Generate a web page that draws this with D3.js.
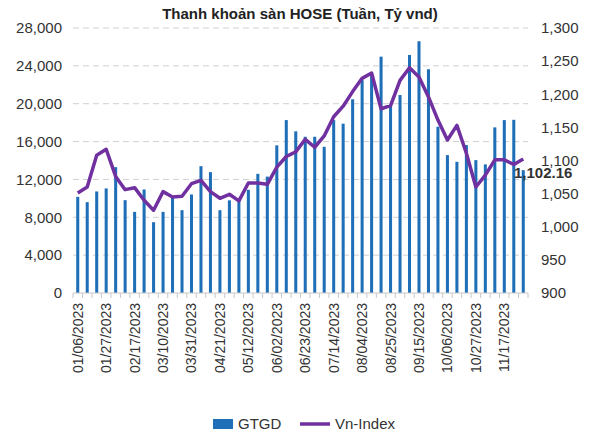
<!DOCTYPE html>
<html><head><meta charset="utf-8">
<script src="https://cdn.jsdelivr.net/npm/d3@7"></script>
<style>body{margin:0;background:#fff}svg{font-family:"Liberation Sans",Arial,sans-serif}</style>
</head><body><svg id="c" width="600" height="441"></svg>
<script>
let weeks = d3.range(48).map(i => d3.timeFormat('%m/%d/%Y')(d3.timeDay.offset(new Date(2023, 0, 6), i * 7)));
let gtgd = [10160, 9600, 10730, 11050, 13300, 9810, 8570, 10940, 7480, 8570, 10160, 8750,
  10410, 13400, 12770, 8750, 9790, 9700, 10900, 12590, 12300, 15600, 18270, 17080,
  16510, 16510, 15450, 18270, 17890, 20470, 22500, 23220, 24970, 19860, 20920, 25150,
  26600, 23640, 17570, 14570, 13860, 15630, 14040, 13590, 17500, 18270, 18300, 12980];
let vnIndex = [1051, 1060, 1108, 1117, 1076, 1056, 1059, 1040, 1025, 1053, 1045, 1046,
  1065, 1070, 1053, 1043, 1049, 1039, 1066, 1066, 1064, 1090, 1106, 1113,
  1132, 1120, 1137, 1166, 1182, 1204, 1224, 1232, 1178, 1183, 1221, 1240,
  1226, 1196, 1161, 1131, 1153, 1111, 1060, 1078, 1101, 1101, 1094, 1102.16];
let leftTicks = d3.range(0, 28001, 4000);
let rightTicks = d3.range(900, 1301, 50);

(function () {
let svg = d3.select('#c');
let mLeft = 73, mRight = 528, mTop = 28, mBottom = 293;
let x = d3.scaleBand().domain(weeks).range([mLeft, mRight]).paddingInner(0.68).paddingOuter(0.34);
let y = d3.scaleLinear().domain([0, 28000]).range([mBottom, mTop]);
let y2 = d3.scaleLinear().domain([900, 1300]).range([mBottom, mTop]);

svg.append('text').attr('x', 300).attr('y', 19).attr('text-anchor', 'middle')
  .attr('font-weight', 'bold').attr('font-size', 15).attr('fill', '#222')
  .text('Thanh khoản sàn HOSE (Tuần, Tỷ vnd)');

// gridlines
svg.append('g').selectAll('line').data(leftTicks.slice(1)).join('line')
  .attr('x1', mLeft).attr('x2', mRight).attr('y1', d => y(d)).attr('y2', d => y(d))
  .attr('stroke', '#d0d0d0').attr('stroke-dasharray', '6,4');

let ga = svg.append('g').attr('transform', `translate(${mLeft - 8},0)`)
  .call(d3.axisLeft(y).tickValues(leftTicks).tickFormat(d3.format(',')).tickSize(0));
ga.select('.domain').remove();
ga.selectAll('text').attr('font-size', 15).attr('fill', '#333')
  .attr('font-family', '"Liberation Sans",Arial,sans-serif');

let gb = svg.append('g').attr('transform', `translate(${mRight + 10},0)`)
  .call(d3.axisRight(y2).tickValues(rightTicks).tickFormat(d3.format(',')).tickSize(0));
gb.select('.domain').remove();
gb.selectAll('text').attr('font-size', 15).attr('fill', '#333')
  .attr('font-family', '"Liberation Sans",Arial,sans-serif');

svg.append('g').selectAll('rect').data(gtgd).join('rect')
  .attr('x', (d, i) => x(weeks[i])).attr('width', x.bandwidth())
  .attr('y', d => y(d)).attr('height', d => mBottom - y(d)).attr('fill', '#1f6fb8');

// baseline + ticks
svg.append('line').attr('x1', mLeft).attr('x2', mRight).attr('y1', mBottom).attr('y2', mBottom).attr('stroke', '#c8c8c8');
let step = x.step();
let x0 = x(weeks[0]) - step * x.paddingInner() / 2;
svg.append('g').selectAll('line').data(d3.range(49)).join('line')
  .attr('x1', i => x0 + i * step).attr('x2', i => x0 + i * step)
  .attr('y1', mBottom).attr('y2', mBottom + 5).attr('stroke', '#c8c8c8');

svg.append('path').datum(vnIndex)
  .attr('d', d3.line().x((d, i) => x(weeks[i]) + x.bandwidth() / 2).y(d => y2(d)))
  .attr('fill', 'none').attr('stroke', '#7030a0').attr('stroke-width', 3.5).attr('stroke-linejoin', 'round');

svg.append('text').attr('x', 514).attr('y', 178).attr('font-weight', 'bold').attr('font-size', 15)
  .attr('fill', '#333').text(d3.format(',.2f')(vnIndex[vnIndex.length - 1]));

// x labels every 3 weeks
svg.append('g').selectAll('text').data(weeks.filter((d, i) => i % 3 === 0)).join('text')
  .attr('transform', d => `translate(${x(d) + x.bandwidth() / 2 + 5},${mBottom + 10}) rotate(-90)`)
  .attr('text-anchor', 'end').attr('font-size', 14).attr('fill', '#333').text(d => d);

// legend
let lg = svg.append('g').attr('transform', 'translate(0,424)');
lg.append('rect').attr('x', 213).attr('y', -5).attr('width', 20).attr('height', 10).attr('fill', '#1f6fb8');
lg.append('text').attr('x', 238).attr('y', 5).attr('font-size', 15).attr('fill', '#333').text('GTGD');
lg.append('line').attr('x1', 300).attr('x2', 330).attr('y1', 0).attr('y2', 0).attr('stroke', '#7030a0').attr('stroke-width', 3.5);
lg.append('text').attr('x', 335).attr('y', 5).attr('font-size', 15).attr('fill', '#333').text('Vn-Index');
})();
</script></body></html>
